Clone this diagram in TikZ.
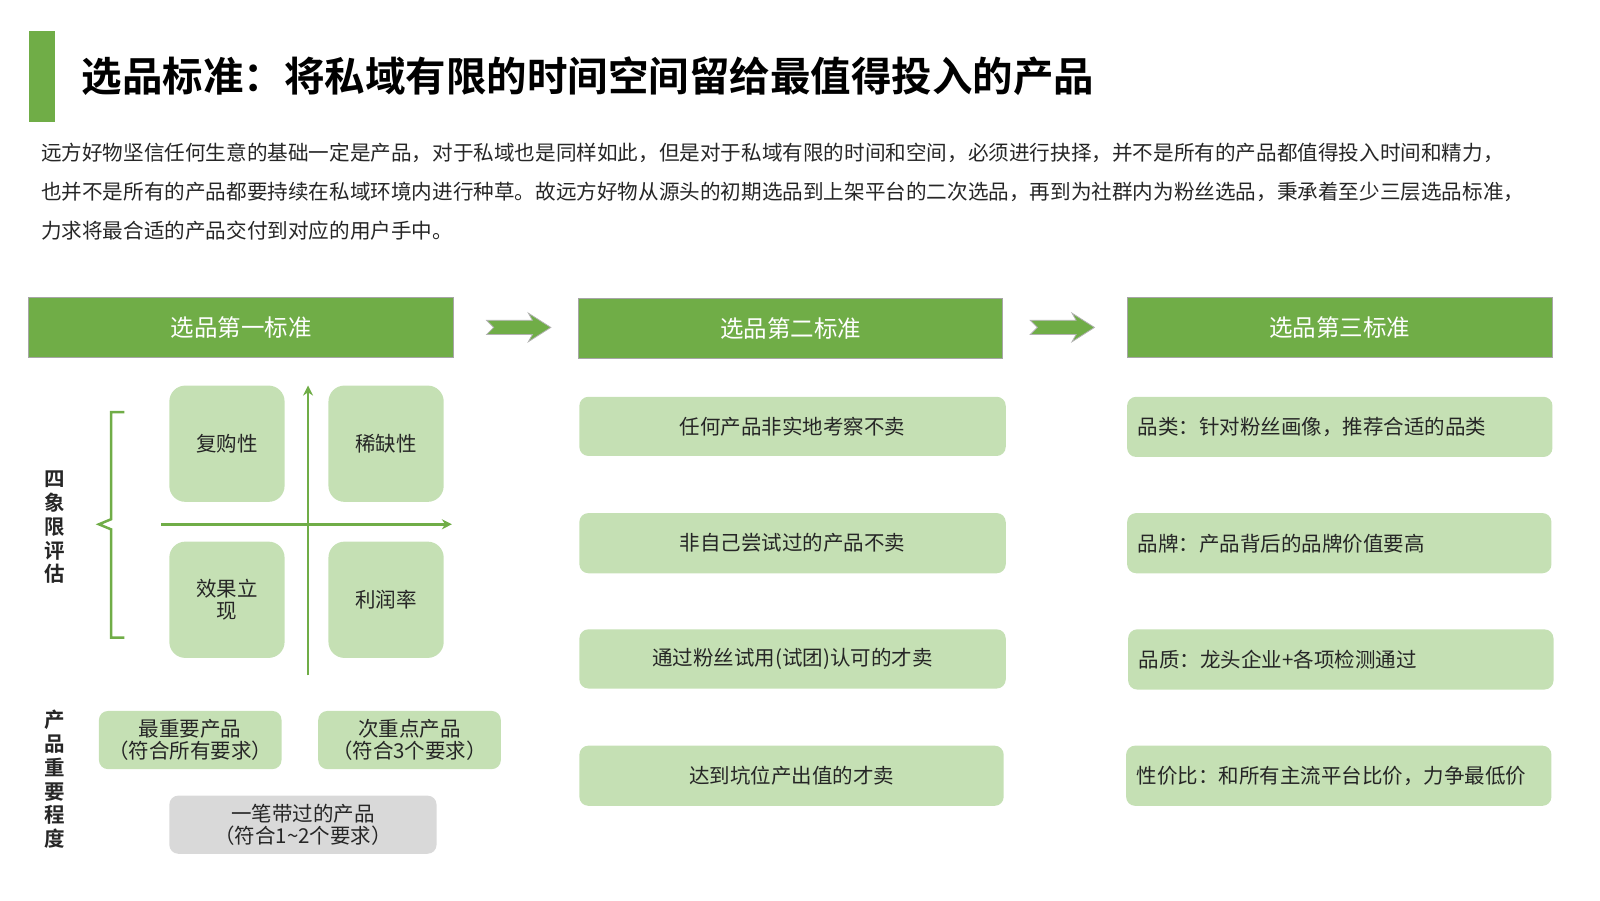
\documentclass[tikz,border=0pt]{standalone}
\usepackage{fontspec}
\setmainfont{Noto Sans CJK SC}
\newfontfamily\cjkb{Noto Sans CJK SC Bold}
\usetikzlibrary{arrows.meta}
\definecolor{gr}{HTML}{70AD47}
\definecolor{lg}{HTML}{C5E0B4}
\definecolor{gy}{HTML}{D9D9D9}
\definecolor{tx}{HTML}{262626}
\begin{document}
\begin{tikzpicture}[x=1.02pt,y=-1.02pt,
  hdr/.style={fill=gr,draw=gray!70,line width=1pt,text=white,font=\fontsize{23.5}{27}\selectfont},
  qb/.style={fill=lg,rounded corners=16pt,font=\fontsize{20.5}{25}\selectfont,text=tx,align=center},
  cb/.style={fill=lg,rounded corners=9pt,font=\fontsize{20.5}{25}\selectfont,text=tx},
  pb/.style={fill=lg,rounded corners=9pt,font=\fontsize{20.5}{25}\selectfont,text=tx,align=center},
  arr/.style={fill=gr,draw=gray!60,line width=0.8pt},
  vt/.style={font=\cjkb\fontsize{20.5}{23.8}\selectfont,text=tx,align=center},
  rt/.style={anchor=west,font=\fontsize{20.5}{25}\selectfont,text=tx},
  ax/.style={gr,line width=2.5pt,-{Stealth[length=10pt,width=10pt]}}]
\useasboundingbox (0,0) rectangle (1568.6,882.35);
\fill[gr] (28,30) rectangle (54,120);
\node[anchor=west,font=\cjkb\fontsize{40.5}{44}\selectfont,inner sep=0] (title) at (80,75) {选品标准：将私域有限的时间空间留给最值得投入的产品};
\node[anchor=north west,inner sep=0,font=\fontsize{20.6}{39}\selectfont,text=tx,align=left] (para) at (40,140)
{远方好物坚信任何生意的基础一定是产品，对于私域也是同样如此，但是对于私域有限的时间和空间，必须进行抉择，并不是所有的产品都值得投入时间和精力，\\
也并不是所有的产品都要持续在私域环境内进行种草。故远方好物从源头的初期选品到上架平台的二次选品，再到为社群内为粉丝选品，秉承着至少三层选品标准，\\
力求将最合适的产品交付到对应的用户手中。};
% headers
\draw[hdr] (28,292) rectangle (445,350) node[midway] (h1) {选品第一标准};
\draw[hdr] (567,293) rectangle (983,351) node[midway] (h2) {选品第二标准};
\draw[hdr] (1105,292) rectangle (1522,350) node[midway] (h3) {选品第三标准};
\draw[arr] (477,314) -- (522,314) -- (518,307) -- (540,321) -- (518,335) -- (522,328) -- (477,328) -- (484,321) -- cycle;
\draw[arr] (1010,314) -- (1055,314) -- (1051,307) -- (1073,321) -- (1051,335) -- (1055,328) -- (1010,328) -- (1017,321) -- cycle;
% quadrant
\coordinate (vb) at (302,662); \coordinate (vt) at (302,378);
\coordinate (hl) at (158,514); \coordinate (hr) at (443,514);
\draw[ax] (vb) -- (vt);
\draw[ax] (hl) -- (hr);
\path[qb] (166,378) rectangle (279,492) node[midway] (q1) {复购性};
\path[qb] (322,378) rectangle (435,492) node[midway] (q2) {稀缺性};
\path[qb] (166,531) rectangle (279,645) node[midway] (q3) {效果立\\[-3pt]现};
\path[qb] (322,531) rectangle (435,645) node[midway] (q4) {利润率};
\draw[gr,line width=2.5pt] (122,404) -- (109,404) -- (109,509) -- (97,514) -- (109,519) -- (109,625) -- (122,625);
\node[vt] (v1) at (54,517) {四\\象\\限\\评\\估};
\node[vt] (v2) at (54,764) {产\\品\\重\\要\\程\\度};
\path[pb] (97,697) rectangle (276,754) node[midway] (p1) {最重要产品\\[-3pt]（符合所有要求）};
\path[pb] (312,697) rectangle (491,754) node[midway] (p2) {次重点产品\\[-3pt]（符合3个要求）};
\path[pb,fill=gy] (166,780) rectangle (428,837) node[midway] (p3) {一笔带过的产品\\[-3pt]（符合1\textasciitilde2个要求）};
% middle
\path[cb] (568,389) rectangle (986,447) node[midway] (m1) {任何产品非实地考察不卖};
\path[cb] (568,503) rectangle (986,562) node[midway] (m2) {非自己尝试过的产品不卖};
\path[cb] (568,617) rectangle (986,675) node[midway] (m3) {通过粉丝试用(试团)认可的才卖};
\path[cb] (568,731) rectangle (984,790) node[midway] (m4) {达到坑位产出值的才卖};
% right
\path[cb] (1105,389) rectangle (1522,448);
\node[rt] (r1) at (1112,419) {品类：针对粉丝画像，推荐合适的品类};
\path[cb] (1105,503) rectangle (1521,562);
\node[rt] (r2) at (1112,533) {品牌：产品背后的品牌价值要高};
\path[cb] (1106,617) rectangle (1523,676);
\node[rt] (r3) at (1113,647) {品质：龙头企业+各项检测通过};
\path[cb] (1104,731) rectangle (1521,790);
\node[rt] (r4) at (1111,761) {性价比：和所有主流平台比价，力争最低价};
\end{tikzpicture}
\end{document}
